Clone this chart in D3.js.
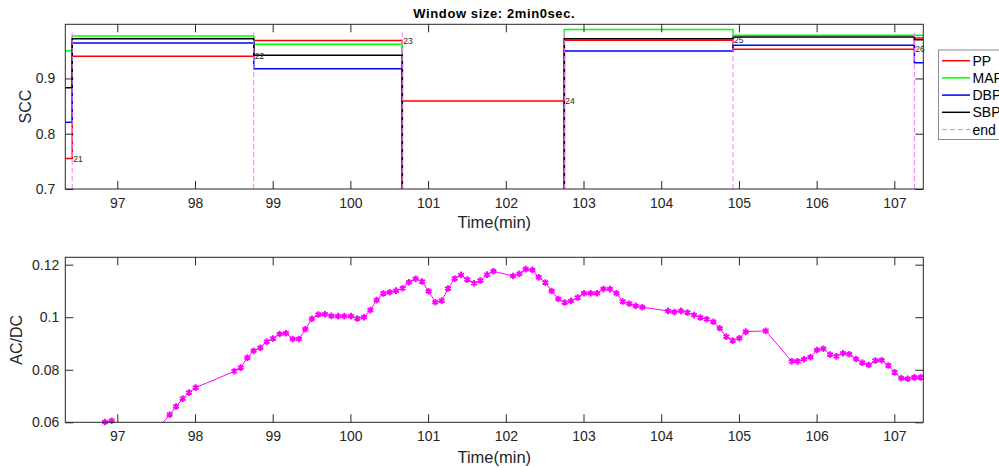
<!DOCTYPE html>
<html>
<head>
<meta charset="utf-8">
<script src="https://cdn.jsdelivr.net/npm/d3@7"></script>
<style>
  html, body { margin: 0; padding: 0; background: #fff; }
  svg { display: block; font-family: "Liberation Sans", Arial, sans-serif; }
</style>
</head>
<body>
<div id="chart"></div>
<script>
// ---------------- DATA ----------------
const chartTitle = "Window size: 2min0sec.";
const xTicks = [97, 98, 99, 100, 101, 102, 103, 104, 105, 106, 107];
const sccTicks = [0.7, 0.8, 0.9];
const acdcTicks = [0.06, 0.08, 0.1, 0.12];

// step boundaries (min): window ends 21..26
const segBounds = [96.331, 96.42, 98.756, 100.668, 102.753, 104.924, 107.258, 107.373];
const endTimes = [96.42, 98.756, 100.668, 102.753, 104.924, 107.258];
const endLabels = ["21", "22", "23", "24", "25", "26"];
const endLineRange = [0.7, 0.983];

const seriesNames = ["PP", "MAP", "DBP", "SBP"];
const ppVals  = [0.755, 0.940, 0.9685, 0.859, 0.969, 0.953, 0.973];
const mapVals = [0.950, 0.977, 0.962, 0.0, 0.9885, 0.978, 0.978];
const dbpVals = [0.821, 0.964, 0.9176, 0.0, 0.9497, 0.960, 0.9285];
const sbpVals = [0.883, 0.972, 0.942, 0.0, 0.972, 0.975, 0.970];
const seriesColors = ["#ff0000", "#00ff00", "#0000ff", "#000000"];

const acdcTime = [96.842, 96.928, 97.01, 97.5, 97.674, 97.756, 97.842, 97.923, 98.009, 98.506,
  98.588, 98.674, 98.755, 98.841, 98.922, 99.004, 99.090, 99.171, 99.257, 99.339,
  99.420, 99.506, 99.588, 99.673, 99.755, 99.841, 99.922, 100.008, 100.089, 100.175,
  100.257, 100.338, 100.424, 100.506, 100.587, 100.673, 100.754, 100.840, 100.922, 101.007,
  101.093, 101.175, 101.256, 101.342, 101.424, 101.505, 101.591, 101.672, 101.758, 101.840,
  102.093, 102.175, 102.256, 102.342, 102.423, 102.509, 102.590, 102.676, 102.758, 102.839,
  102.925, 103.007, 103.093, 103.174, 103.256, 103.341, 103.423, 103.504, 103.590, 103.672,
  103.757, 104.088, 104.169, 104.255, 104.337, 104.423, 104.504, 104.585, 104.671, 104.753,
  104.838, 104.920, 105.006, 105.087, 105.345, 105.679, 105.757, 105.838, 105.920, 106.005,
  106.087, 106.173, 106.254, 106.340, 106.421, 106.507, 106.588, 106.670, 106.756, 106.837,
  106.923, 107.004, 107.090, 107.172, 107.257, 107.338];
const acdcVal = [0.0601, 0.0606, 0.0593, 0.0567, 0.0629, 0.0660, 0.0690, 0.0713, 0.0732, 0.0794,
  0.0808, 0.0846, 0.0872, 0.0884, 0.0907, 0.0919, 0.0936, 0.0939, 0.0917, 0.0917,
  0.0954, 0.0994, 0.1010, 0.1011, 0.1005, 0.1004, 0.1004, 0.1004, 0.0995, 0.1000,
  0.1027, 0.1065, 0.1090, 0.1095, 0.1101, 0.1110, 0.1133, 0.1146, 0.1136, 0.1099,
  0.1057, 0.1063, 0.1109, 0.1147, 0.1161, 0.1143, 0.1129, 0.1140, 0.1162, 0.1175,
  0.1157, 0.1165, 0.1183, 0.1180, 0.1152, 0.1132, 0.1100, 0.1069, 0.1056, 0.1062,
  0.1075, 0.1091, 0.1091, 0.1091, 0.1107, 0.1107, 0.1091, 0.1060, 0.1051, 0.1043,
  0.1038, 0.1024, 0.1020, 0.1024, 0.1018, 0.1008, 0.0999, 0.0992, 0.0983, 0.0958,
  0.0926, 0.0911, 0.0920, 0.0945, 0.0948, 0.0832, 0.0832, 0.0840, 0.0848, 0.0875,
  0.0880, 0.0858, 0.0851, 0.0863, 0.0859, 0.0841, 0.0827, 0.0818, 0.0835, 0.0836,
  0.0816, 0.0790, 0.0768, 0.0766, 0.0771, 0.0771];

// ---------------- LAYOUT ----------------
const W = 999, H = 468;
const xDomain = [96.331, 107.373];
const L = 65.3, R = 923.3;
const top1 = 24.3, bot1 = 189;
const top2 = 257.3, bot2 = 422.3;
const axisColor = "#262626";

const svg = d3.select("#chart").append("svg").attr("width", W).attr("height", H);

const x = d3.scaleLinear().domain(xDomain).range([L, R]);
const y1 = d3.scaleLinear().domain([0.7, 0.998]).range([bot1, top1]);
const y2 = d3.scaleLinear().domain([0.06, 0.1228]).range([bot2, top2]);

const defs = svg.append("defs");
defs.append("clipPath").attr("id", "clip1").append("rect")
  .attr("x", L).attr("y", top1).attr("width", R - L).attr("height", bot1 - top1);
defs.append("clipPath").attr("id", "clip2").append("rect")
  .attr("x", L).attr("y", top2).attr("width", R - L).attr("height", bot2 - top2);

function drawAxes(yScale, yTicks, top, bot, yPad, fmt) {
  const g = svg.append("g");
  const styleAxis = sel => {
    sel.select(".domain").remove();
    sel.selectAll(".tick line").attr("stroke", axisColor).attr("stroke-width", 1);
    sel.selectAll(".tick text").attr("fill", axisColor).attr("font-size", 14)
      .attr("font-family", "'Liberation Sans', Arial, sans-serif");
  };
  g.append("g").attr("transform", `translate(0,${bot})`)
    .call(d3.axisBottom(x).tickValues(xTicks).tickSizeInner(-8).tickSizeOuter(0).tickPadding(9).tickFormat(d3.format("d")))
    .call(styleAxis);
  g.append("g").attr("transform", `translate(0,${top})`)
    .call(d3.axisTop(x).tickValues(xTicks).tickSizeInner(-8).tickSizeOuter(0).tickFormat(""))
    .call(styleAxis);
  g.append("g").attr("transform", `translate(${L},0)`)
    .call(d3.axisLeft(yScale).tickValues(yTicks).tickSizeInner(-8).tickSizeOuter(0).tickPadding(yPad).tickFormat(fmt))
    .call(styleAxis);
  g.append("g").attr("transform", `translate(${R},0)`)
    .call(d3.axisRight(yScale).tickValues(yTicks).tickSizeInner(-8).tickSizeOuter(0).tickFormat(""))
    .call(styleAxis);
  g.append("rect").attr("x", L).attr("y", top).attr("width", R - L).attr("height", bot - top)
    .attr("fill", "none").attr("stroke", axisColor).attr("stroke-width", 1);
}

// ---------------- TOP CHART ----------------
const plot1 = svg.append("g").attr("clip-path", "url(#clip1)");
const stepLine = d3.line().x(d => x(d[0])).y(d => y1(d[1])).curve(d3.curveStepAfter);
const allSeries = [ppVals, mapVals, dbpVals, sbpVals];
allSeries.forEach((vals, i) => {
  const pts = segBounds.map((t, k) => [t, vals[Math.min(k, vals.length - 1)]]);
  plot1.append("path").datum(pts).attr("d", stepLine)
    .attr("fill", "none").attr("stroke", seriesColors[i]).attr("stroke-width", 1.5);
});
plot1.selectAll(".endline").data(endTimes).enter().append("line")
  .attr("x1", d => x(d)).attr("x2", d => x(d))
  .attr("y1", y1(endLineRange[0])).attr("y2", y1(endLineRange[1]))
  .attr("stroke", "#ff77ff").attr("stroke-width", 1).attr("stroke-dasharray", "5,3");
endTimes.forEach((t, i) => {
  svg.append("text").attr("x", x(t) + 1).attr("y", y1(ppVals[i]))
    .attr("dy", "0.35em").attr("font-size", 8.5).attr("fill", axisColor).text(endLabels[i]);
});
drawAxes(y1, sccTicks, top1, bot1, 10, d => String(d));

svg.append("text").attr("x", (L + R) / 2).attr("y", 17.5).attr("text-anchor", "middle")
  .attr("font-weight", "bold").attr("font-size", 13).attr("letter-spacing", 0.6).attr("fill", "#000").text(chartTitle);
svg.append("text").attr("transform", `translate(31,${(top1 + bot1) / 2}) rotate(-90)`)
  .attr("text-anchor", "middle").attr("font-size", 16).attr("fill", axisColor).text("SCC");
svg.append("text").attr("x", (L + R) / 2).attr("y", 228).attr("text-anchor", "middle")
  .attr("font-size", 16.5).attr("fill", axisColor).text("Time(min)");

// Legend (cut off by the right edge, as in the reference)
const lg = svg.append("g");
lg.append("rect").attr("x", 938.5).attr("y", 50).attr("width", 100).attr("height", 89.5)
  .attr("fill", "#fff").attr("stroke", "#8c8c8c").attr("stroke-width", 1);
const legendNames = seriesNames.concat(["end"]);
legendNames.forEach((name, i) => {
  const yy = 60.7 + i * 17.2;
  lg.append("line").attr("x1", 942).attr("x2", 970).attr("y1", yy).attr("y2", yy)
    .attr("stroke", i < 4 ? seriesColors[i] : "#ff77ff").attr("stroke-width", i < 4 ? 1.5 : 1)
    .attr("stroke-dasharray", i < 4 ? null : "5,3");
  lg.append("text").attr("x", 972.5).attr("y", yy).attr("dy", "0.36em")
    .attr("font-size", 14).attr("fill", "#000").text(name);
});

// ---------------- BOTTOM CHART ----------------
const acdc = acdcTime.map((t, i) => [t, acdcVal[i]]);
const plot2 = svg.append("g").attr("clip-path", "url(#clip2)");
plot2.append("path").datum(acdc)
  .attr("d", d3.line().x(d => x(d[0])).y(d => y2(d[1])))
  .attr("fill", "none").attr("stroke", "#ff00ff").attr("stroke-width", 1);
const star = d3.symbol().type(d3.symbolAsterisk).size(30);
svg.append("g").selectAll("path").data(acdc.filter(d => d[1] >= 0.0598)).enter().append("path")
  .attr("transform", d => `translate(${x(d[0])},${y2(d[1])})`)
  .attr("d", star).attr("fill", "none").attr("stroke", "#ff00ff").attr("stroke-width", 2);
drawAxes(y2, acdcTicks, top2, bot2, 6, d => String(d));
svg.append("text").attr("transform", `translate(22,${(top2 + bot2) / 2}) rotate(-90)`)
  .attr("text-anchor", "middle").attr("font-size", 16).attr("fill", axisColor).text("AC/DC");
svg.append("text").attr("x", (L + R) / 2).attr("y", 463).attr("text-anchor", "middle")
  .attr("font-size", 16.5).attr("fill", axisColor).text("Time(min)");
</script>
</body>
</html>
